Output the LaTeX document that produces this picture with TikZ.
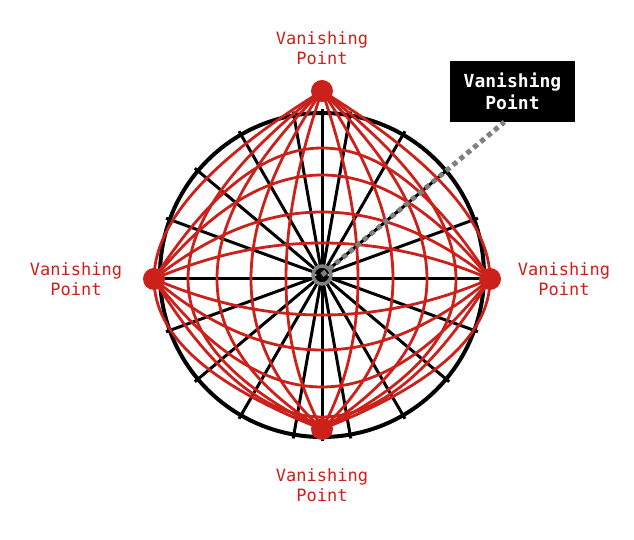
\documentclass[tikz,border=0pt]{standalone}
\usepackage{fontspec}
\setmonofont{DejaVu Sans Mono}
\usetikzlibrary{shapes,positioning,calc}
\definecolor{vpred}{RGB}{204,32,26}
\definecolor{dotgray}{RGB}{128,128,128}
\tikzstyle{vp} = [circle, fill=vpred, minimum size=22pt, inner sep=0pt]
\tikzstyle{vplabel} = [text=vpred, align=center, font=\ttfamily\fontsize{17}{20.5}\selectfont]
\tikzstyle{callout} = [rectangle, fill=black, text=white, align=center, minimum width=125pt, minimum height=61pt, font=\ttfamily\bfseries\fontsize{18}{22}\selectfont]
\tikzstyle{spoke} = [line width=3pt, black]
\tikzstyle{meridian} = [line width=2.8pt, vpred]
\tikzstyle{dotline} = [line width=5pt, dotgray, dash pattern=on 5pt off 4pt]
\tikzstyle{hubring} = [circle, draw=dotgray, line width=3.5pt, minimum size=18pt, inner sep=0pt]

\begin{document}
\begin{tikzpicture}[x=1pt,y=1pt]
	\useasboundingbox (-322,-261) rectangle (312,279);
	\coordinate (c) at (0,4);
	\coordinate (vt) at (0,188);
	\coordinate (vb) at (0,-150);
	\coordinate (vl) at (-168,0);
	\coordinate (vr) at (168,0);
	\draw[line width=4pt] (c) circle (162);
	\foreach \a in {20,40,60,80,90,100,120,140,160,200,220,240,260,270,280,300,320,340}
		\draw[spoke] (c) -- ++(\a:166);
	\draw[spoke] (vl) -- (vr);
	\foreach \s in {36,71,105,134,168}{
		\coordinate (q) at (2*\s,-19);
		\draw[meridian] (vt) .. controls ($(vt)!2/3!(q)$) and ($(vb)!2/3!(q)$) .. (vb);
		\coordinate (q) at (-2*\s,-19);
		\draw[meridian] (vt) .. controls ($(vt)!2/3!(q)$) and ($(vb)!2/3!(q)$) .. (vb);
	}
	\foreach \s in {36,67,104,131}{
		\coordinate (q) at (0,2*\s);
		\draw[meridian] (vl) .. controls ($(vl)!2/3!(q)$) and ($(vr)!2/3!(q)$) .. (vr);
	}
	\foreach \s in {36,71,108,138}{
		\coordinate (q) at (0,-2*\s);
		\draw[meridian] (vl) .. controls ($(vl)!2/3!(q)$) and ($(vr)!2/3!(q)$) .. (vr);
	}
	\foreach \p in {vt,vb,vl,vr}
		\node (\p dot) at (\p) [vp] {};
	\node (box) at (190.5,187.5) [callout] {Vanishing\\Point};
	\path (c) ++(40:238) coordinate (tip);
	\draw[dotline] (c) -- (tip);
	\node (hub) at (c) [hubring] {};
	\node (lt) at (0,231) [vplabel] {Vanishing\\Point};
	\node (lb) at (0,-206) [vplabel] {Vanishing\\Point};
	\node (ll) at (-246,0) [vplabel] {Vanishing\\Point};
	\node (lr) at (242,0) [vplabel] {Vanishing\\Point};
\end{tikzpicture}
\end{document}
